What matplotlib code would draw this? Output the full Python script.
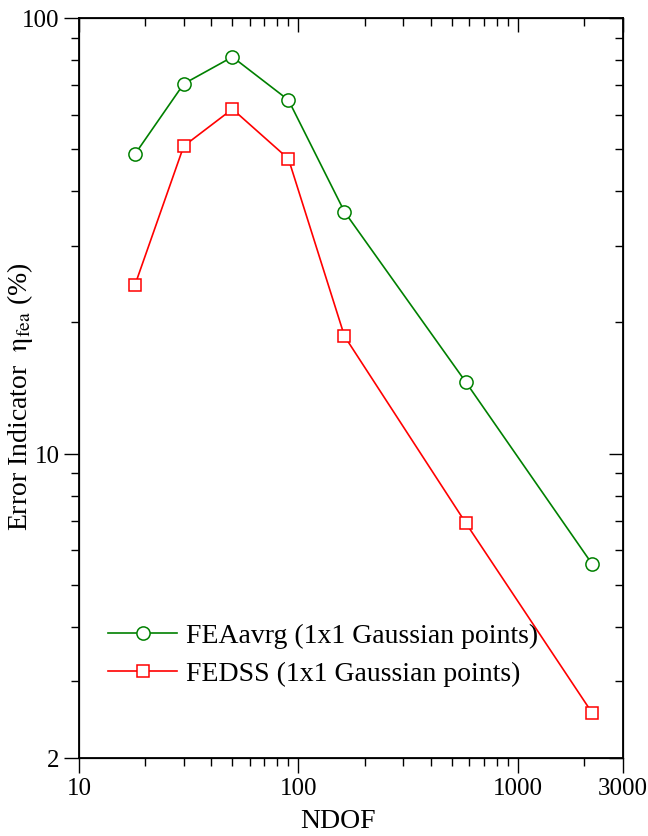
import matplotlib
matplotlib.use("Agg")
import matplotlib.pyplot as plt
from matplotlib.ticker import FixedLocator, FixedFormatter, LogLocator, NullFormatter

plt.rcParams['font.family'] = 'Liberation Serif'
plt.rcParams['mathtext.fontset'] = 'stix'

# data
ndof = [18, 30, 50, 90, 162, 578, 2175]
fea_avrg = [48.7, 70.6, 81.4, 64.8, 35.9, 14.6, 5.58]
fedss = [24.4, 50.8, 61.8, 47.5, 18.6, 6.93, 2.54]

x_ticks = [10, 100, 1000, 3000]
x_ticklabels = ['10', '100', '1000', '3000']
y_ticks = [2, 10, 100]
y_ticklabels = ['2', '10', '100']

fig = plt.figure(figsize=(6.48, 8.37), dpi=100)
ax = fig.add_axes([0.1219, 0.0932, 0.8391, 0.8841])

ax.plot(ndof, fea_avrg, '-o', color='#008000', lw=1.2, ms=9.5,
        mfc='white', mec='#008000', mew=1.1,
        label='FEAavrg (1x1 Gaussian points)')
ax.plot(ndof, fedss, '-s', color='#ff0000', lw=1.2, ms=8.5,
        mfc='white', mec='#ff0000', mew=1.1,
        label='FEDSS (1x1 Gaussian points)')

ax.set_xscale('log')
ax.set_yscale('log')
ax.set_xlim(10, 3000)
ax.set_ylim(2, 100)

ax.xaxis.set_major_locator(FixedLocator(x_ticks))
ax.xaxis.set_major_formatter(FixedFormatter(x_ticklabels))
ax.xaxis.set_minor_locator(LogLocator(base=10, subs=range(2, 10)))
ax.xaxis.set_minor_formatter(NullFormatter())
ax.yaxis.set_major_locator(FixedLocator(y_ticks))
ax.yaxis.set_major_formatter(FixedFormatter(y_ticklabels))
ax.yaxis.set_minor_locator(LogLocator(base=10, subs=range(2, 10)))
ax.yaxis.set_minor_formatter(NullFormatter())

ax.tick_params(which='major', direction='out', length=11, width=1.0, labelsize=18, pad=3)
ax.tick_params(which='minor', direction='out', length=6, width=1.0)
for sp in ax.spines.values():
    sp.set_linewidth(1.3)

# inward ticks on top and right
axt = ax.twiny()
axt.set_xscale('log')
axt.set_xlim(ax.get_xlim())
axt.xaxis.set_major_locator(FixedLocator(x_ticks))
axt.xaxis.set_minor_locator(LogLocator(base=10, subs=range(2, 10)))
axt.tick_params(which='both', direction='in', labeltop=False, width=1.0)
axt.tick_params(which='major', length=10)
axt.tick_params(which='minor', length=6)

axr = ax.twinx()
axr.set_yscale('log')
axr.set_ylim(ax.get_ylim())
axr.yaxis.set_major_locator(FixedLocator(y_ticks))
axr.yaxis.set_minor_locator(LogLocator(base=10, subs=range(2, 10)))
axr.tick_params(which='both', direction='in', labelright=False, width=1.0)
axr.tick_params(which='major', length=10)
axr.tick_params(which='minor', length=6)

ax.set_xlabel('NDOF', fontsize=20)
ax.xaxis.set_label_coords(0.476, -0.068)
ax.set_ylabel(r'Error Indicator  $\mathrm{\eta_{fea}}$ (%)', fontsize=20)
ax.yaxis.set_label_coords(-0.081, 0.49)

ax.legend(loc='lower left', bbox_to_anchor=(0.007, 0.063), frameon=False,
          fontsize=20, handlelength=2.5, handletextpad=0.3, labelspacing=0.45)

fig.savefig('out.png', dpi=100)
